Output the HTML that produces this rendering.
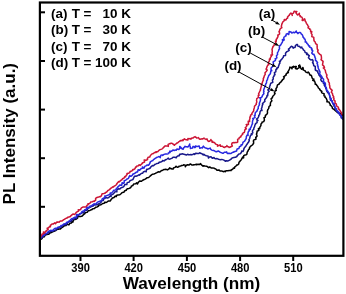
<!DOCTYPE html>
<html><head><meta charset="utf-8"><style>
html,body{margin:0;padding:0;background:#fff;}
svg{display:block;filter:blur(0.3px);}
text{font-family:"Liberation Sans",sans-serif;font-weight:bold;fill:#000;}
</style></head><body>
<svg width="346" height="294" viewBox="0 0 346 294">
<rect x="0" y="0" width="346" height="294" fill="#fff"/>
<g fill="none" stroke-linejoin="round" stroke-linecap="round">
<path d="M40.5,239.5 L41.9,238.7 L42.7,237.1 L44.4,236.7 L44.7,235.8 L45.2,235.0 L46.8,234.5 L48.5,234.3 L49.8,233.4 L50.9,232.0 L51.7,232.5 L52.6,231.7 L54.1,231.3 L55.6,230.6 L56.8,229.4 L58.5,229.3 L58.3,228.9 L60.2,229.1 L61.4,228.0 L62.7,227.1 L64.0,225.9 L65.6,225.6 L66.0,225.5 L66.7,224.3 L68.9,224.9 L69.8,223.3 L71.5,223.0 L71.7,221.4 L72.9,222.1 L73.4,220.1 L74.9,219.4 L76.5,219.0 L77.7,217.9 L77.4,216.8 L78.8,216.6 L80.6,216.5 L82.3,216.1 L83.4,214.8 L83.9,213.8 L84.7,213.9 L85.6,212.4 L87.4,212.2 L88.3,210.7 L90.0,210.4 L91.4,209.6 L91.8,209.8 L92.8,208.7 L94.5,208.5 L95.6,207.2 L97.2,206.9 L98.6,206.1 L98.1,205.0 L99.9,205.1 L101.4,204.5 L102.7,203.5 L104.3,203.2 L104.9,202.1 L105.8,202.6 L107.2,201.8 L108.5,200.9 L110.4,200.9 L111.3,199.2 L112.0,198.6 L112.4,198.0 L114.0,197.5 L115.0,196.2 L116.4,196.5 L116.4,195.5 L118.0,194.9 L119.8,194.8 L121.0,193.7 L122.2,192.5 L123.8,192.2 L124.8,190.8 L126.4,190.3 L126.2,190.0 L127.3,188.8 L129.0,188.4 L130.5,187.7 L131.5,186.4 L131.3,186.1 L132.8,185.5 L133.8,183.9 L135.5,183.8 L136.7,182.8 L137.5,184.0 L138.4,182.2 L139.6,181.1 L141.5,181.3 L142.7,180.2 L144.2,179.5 L145.2,179.1 L145.6,178.8 L146.9,177.8 L148.6,177.5 L149.8,176.5 L150.6,175.5 L151.0,175.4 L152.3,174.3 L153.9,174.0 L155.4,173.4 L156.2,172.9 L156.8,172.7 L158.2,171.8 L159.9,172.0 L161.2,170.7 L162.7,170.2 L164.1,169.5 L164.4,169.6 L165.7,169.2 L167.5,169.9 L168.9,168.9 L169.6,167.9 L170.0,168.7 L170.3,168.2 L172.0,169.0 L173.3,169.0 L173.4,168.0 L175.0,167.4 L176.0,166.2 L176.1,166.5 L177.6,167.3 L179.2,166.6 L178.9,166.3 L180.7,166.1 L181.3,165.5 L182.0,165.4 L183.4,165.3 L183.6,164.7 L185.3,165.2 L185.3,166.8 L186.0,165.7 L187.1,164.8 L187.3,164.7 L189.2,164.9 L190.4,163.9 L190.4,163.9 L191.7,164.9 L193.4,164.9 L193.5,164.8 L194.8,164.7 L196.4,164.3 L196.5,164.7 L198.0,164.2 L199.6,164.4 L199.9,164.1 L200.7,163.6 L200.7,164.0 L201.8,165.2 L203.0,166.2 L203.4,165.7 L205.0,166.1 L206.6,166.2 L208.0,167.2 L208.7,167.7 L209.7,166.9 L211.1,167.9 L212.8,167.9 L214.3,168.3 L214.3,168.5 L215.8,168.9 L217.0,170.2 L218.9,169.9 L219.9,170.8 L220.1,171.1 L221.7,170.9 L223.2,171.7 L224.9,171.1 L225.2,171.8 L226.1,170.8 L227.8,170.7 L229.4,170.4 L231.1,170.6 L231.1,170.0 L232.6,169.3 L233.5,167.9 L234.5,168.3 L234.8,166.9 L236.1,166.0 L236.6,165.1 L237.4,165.1 L238.7,164.0 L239.0,162.3 L239.9,161.4 L240.1,161.1 L241.1,159.9 L242.0,158.5 L242.6,157.1 L243.6,157.9 L243.7,155.7 L245.2,154.9 L246.3,154.7 L246.9,154.2 L247.1,152.5 L247.6,151.4 L247.9,151.1 L248.5,149.7 L249.6,148.7 L249.3,148.2 L250.1,146.8 L251.1,145.8 L251.4,145.8 L252.6,144.7 L253.6,143.3 L253.6,141.5 L253.3,141.0 L253.9,139.9 L256.0,139.2 L255.7,137.2 L256.1,137.3 L257.1,136.0 L256.4,134.1 L256.8,133.5 L256.9,132.6 L257.2,131.0 L258.2,130.8 L258.9,130.1 L258.3,128.6 L259.7,128.6 L259.9,127.0 L260.4,126.5 L260.9,125.6 L261.0,123.9 L262.1,122.7 L262.0,122.2 L263.7,121.6 L264.4,120.2 L264.2,118.4 L263.9,117.7 L265.3,117.1 L265.4,115.4 L266.8,114.3 L267.2,113.7 L267.5,112.9 L267.4,111.0 L267.9,109.5 L268.2,109.1 L268.8,108.2 L269.0,106.5 L270.5,105.4 L270.3,105.2 L270.4,103.6 L270.7,102.0 L271.3,101.6 L271.9,100.8 L271.0,98.8 L272.5,97.6 L272.3,97.3 L273.0,96.0 L273.8,95.3 L274.1,94.9 L275.1,93.5 L274.4,92.9 L274.9,91.8 L275.4,90.2 L276.3,90.4 L275.9,88.9 L276.5,87.8 L276.9,87.5 L277.2,85.9 L277.4,85.1 L278.0,84.6 L279.3,84.0 L279.2,83.5 L280.4,82.4 L281.6,81.4 L281.5,81.0 L282.5,80.1 L282.3,79.9 L283.7,78.9 L284.2,77.5 L283.5,76.8 L284.9,75.8 L286.3,74.8 L285.9,74.2 L286.8,73.3 L288.4,72.6 L287.6,72.1 L288.6,70.8 L289.3,69.3 L290.0,67.8 L289.7,67.2 L291.3,67.5 L292.0,68.8 L292.2,67.2 L293.5,66.3 L293.4,67.2 L295.0,66.6 L296.3,66.4 L295.4,68.6 L297.0,69.1 L297.5,68.6 L299.2,67.7 L298.7,65.7 L299.8,65.1 L299.5,65.0 L300.3,66.3 L300.5,67.8 L300.6,68.1 L301.6,69.2 L302.5,68.9 L302.8,67.5 L303.2,68.1 L303.2,69.9 L304.2,70.4 L305.0,70.7 L305.6,71.8 L306.1,72.1 L307.5,72.7 L308.2,72.1 L309.1,73.1 L309.8,74.5 L309.6,74.7 L311.4,75.5 L311.8,76.8 L311.8,77.0 L312.4,78.6 L314.0,79.1 L312.7,80.2 L314.5,81.0 L315.1,82.5 L315.3,84.3 L316.1,84.2 L316.7,85.3 L317.8,86.5 L318.4,88.0 L319.8,89.0 L319.5,89.2 L320.5,90.5 L321.9,91.4 L321.6,92.5 L322.3,93.1 L324.1,93.8 L324.0,95.8 L325.1,96.1 L324.9,97.1 L326.2,98.2 L326.8,99.7 L327.3,101.2 L326.8,101.7 L329.0,102.0 L329.6,103.5 L330.3,104.4 L330.1,105.2 L331.6,106.1 L332.3,107.5 L332.4,108.3 L333.2,108.9 L334.6,109.8 L335.1,110.5 L335.7,110.9 L336.9,112.0 L337.2,111.7 L338.4,112.6 L339.6,113.5 L339.9,113.2 L341.2,114.2 L342.3,115.4 L342.5,115.4" stroke="#000" stroke-width="1.5"/>
<path d="M40.5,238.5 L41.9,237.6 L43.0,236.5 L43.7,234.8 L44.7,234.9 L45.5,234.4 L46.9,233.8 L48.2,232.8 L49.7,232.2 L51.0,231.3 L51.3,230.7 L52.7,231.1 L54.2,230.5 L55.8,230.2 L57.0,228.9 L58.3,228.1 L58.3,228.0 L59.5,226.9 L61.5,227.1 L62.5,225.6 L63.8,224.8 L65.5,224.4 L66.3,224.8 L66.9,223.7 L68.0,222.4 L69.4,221.7 L71.1,221.3 L72.0,220.3 L72.1,219.9 L73.5,219.2 L75.1,218.6 L76.7,218.2 L77.2,216.1 L77.8,216.0 L78.6,215.3 L79.6,213.8 L81.3,213.5 L82.6,212.6 L84.3,212.6 L84.1,212.0 L84.9,210.5 L86.8,210.3 L87.8,208.9 L88.4,207.6 L89.0,207.8 L90.4,207.1 L91.8,206.3 L93.4,205.9 L93.8,204.5 L94.8,205.0 L96.5,204.8 L97.9,204.1 L99.4,203.5 L100.1,203.1 L100.9,202.7 L101.5,200.8 L103.3,200.5 L103.8,198.6 L105.0,198.4 L105.2,197.6 L107.3,198.1 L108.8,197.5 L109.9,196.1 L111.1,196.5 L111.1,195.1 L112.6,194.4 L113.8,193.4 L114.7,192.0 L116.2,191.6 L116.9,191.8 L116.8,189.8 L118.3,189.0 L118.1,188.7 L119.9,188.9 L121.1,187.7 L122.6,187.2 L123.5,186.8 L124.0,186.2 L124.7,184.6 L126.8,184.6 L127.2,182.6 L128.9,182.1 L129.1,182.2 L129.9,180.8 L131.4,180.1 L133.0,179.5 L133.3,178.6 L133.7,177.8 L134.5,176.2 L136.2,176.1 L136.5,176.2 L137.9,175.5 L139.2,174.6 L139.6,175.1 L140.7,173.9 L142.1,173.2 L142.7,173.3 L143.3,172.0 L144.7,171.3 L146.2,171.7 L146.3,170.8 L146.7,169.2 L147.3,169.4 L148.8,168.8 L150.3,168.1 L150.1,167.7 L151.2,166.6 L152.4,165.6 L153.3,165.8 L154.1,165.2 L155.3,164.2 L156.2,163.9 L156.8,163.5 L158.4,163.2 L159.2,162.1 L159.8,162.4 L161.3,161.8 L162.5,161.1 L162.5,160.5 L164.3,160.9 L165.3,159.6 L165.7,160.0 L167.1,159.0 L168.3,158.1 L168.7,159.0 L170.0,159.2 L170.2,158.9 L171.8,158.4 L173.0,157.3 L173.1,157.3 L174.7,157.2 L176.3,157.8 L176.4,157.3 L177.6,156.0 L179.3,155.8 L179.0,155.4 L179.9,154.1 L180.2,154.4 L181.6,154.1 L182.3,153.8 L183.1,154.1 L184.7,154.5 L185.3,154.6 L186.3,155.1 L187.9,154.2 L188.4,154.8 L189.5,154.7 L191.1,154.4 L191.4,154.9 L192.7,154.5 L194.2,153.7 L194.6,154.5 L195.7,153.2 L197.4,153.6 L197.6,153.5 L199.0,153.4 L200.0,152.7 L200.5,153.2 L202.0,153.8 L203.2,154.9 L203.6,154.2 L204.9,155.2 L206.4,155.7 L208.0,156.0 L208.5,158.1 L209.3,157.0 L211.0,156.7 L212.3,158.3 L214.1,157.5 L214.3,158.2 L215.4,158.8 L217.1,158.6 L218.6,159.2 L219.9,159.6 L220.1,159.8 L221.8,159.4 L223.4,159.9 L224.8,160.7 L225.3,161.3 L226.4,160.8 L228.1,160.9 L229.6,160.1 L230.6,159.3 L231.0,159.3 L232.1,157.9 L233.8,157.6 L233.8,157.6 L235.4,157.3 L236.8,156.5 L237.4,155.5 L237.8,155.2 L238.9,153.9 L240.2,153.8 L240.5,153.5 L241.5,152.2 L241.7,151.0 L243.0,151.4 L243.7,149.9 L244.0,148.8 L244.1,148.2 L245.1,146.9 L246.1,145.7 L246.2,145.4 L247.0,144.3 L247.8,143.0 L248.8,141.7 L249.3,140.5 L248.9,139.9 L249.7,138.5 L250.0,136.9 L250.5,135.4 L252.1,134.5 L251.2,133.9 L252.8,132.9 L252.4,131.0 L253.2,129.6 L253.8,129.3 L253.8,128.1 L254.6,126.7 L254.8,125.5 L254.9,125.1 L255.6,124.0 L255.5,123.6 L257.1,122.6 L257.0,120.8 L258.0,120.6 L256.5,119.0 L258.1,117.8 L258.8,116.3 L258.7,115.3 L259.5,114.9 L259.9,113.3 L260.1,111.7 L261.0,110.3 L262.0,110.6 L261.4,108.8 L262.0,107.3 L262.2,105.6 L262.9,104.2 L262.4,103.9 L263.3,102.7 L264.9,101.5 L264.7,100.2 L264.7,99.8 L265.7,98.5 L266.7,97.3 L267.0,95.6 L267.7,95.7 L267.8,94.2 L268.0,92.5 L269.2,91.3 L267.8,89.9 L268.8,89.4 L269.6,88.0 L269.6,86.3 L270.3,85.2 L270.2,84.8 L270.8,83.3 L272.8,82.4 L272.5,80.6 L272.4,80.1 L273.3,79.1 L273.1,77.4 L274.1,76.0 L274.1,75.1 L275.0,74.7 L274.4,72.7 L276.0,71.7 L275.9,71.4 L275.8,69.9 L277.2,68.7 L276.5,68.2 L278.2,67.5 L278.6,65.8 L278.8,65.6 L279.1,64.3 L280.0,63.0 L279.4,61.2 L280.3,61.4 L281.0,59.9 L282.2,58.8 L282.4,58.2 L283.2,57.5 L283.6,55.8 L285.2,55.6 L285.6,55.3 L285.5,53.3 L286.5,52.0 L286.9,51.6 L287.9,51.2 L289.2,50.3 L288.4,49.1 L289.6,48.3 L290.6,47.1 L291.4,46.3 L292.5,46.6 L293.2,48.2 L293.0,47.6 L295.0,47.4 L295.3,46.7 L295.4,45.5 L296.7,44.5 L297.5,44.4 L297.5,45.9 L299.3,46.6 L299.3,46.2 L300.5,47.5 L300.8,47.9 L301.8,47.0 L301.5,47.6 L302.7,48.5 L303.4,49.9 L304.8,51.0 L304.9,52.0 L305.3,52.5 L307.1,53.2 L306.6,54.6 L307.8,54.2 L308.6,55.7 L309.3,55.6 L308.4,57.7 L309.7,58.9 L309.6,59.1 L310.9,60.0 L312.1,59.6 L313.0,60.4 L313.0,62.3 L312.5,62.5 L313.4,63.8 L313.7,65.4 L313.7,65.7 L315.3,66.5 L315.3,68.3 L315.3,70.0 L317.0,71.0 L317.8,71.0 L317.7,72.4 L318.6,73.7 L319.1,75.3 L319.9,75.3 L320.0,76.6 L321.6,77.6 L320.9,79.2 L320.8,79.8 L321.6,81.2 L323.5,82.0 L323.4,83.6 L324.8,83.1 L324.2,85.2 L325.1,86.6 L326.2,87.8 L325.7,88.1 L326.4,89.5 L326.7,91.1 L327.4,92.0 L327.6,92.5 L329.2,93.5 L329.5,95.1 L329.9,96.7 L330.2,98.3 L330.9,99.5 L330.4,100.0 L332.1,101.0 L332.5,102.5 L333.1,104.1 L334.0,105.4 L334.1,106.4 L334.9,106.7 L334.9,108.5 L336.4,109.5 L336.7,111.2 L337.7,111.8 L337.5,112.7 L339.5,113.2 L339.7,115.0 L341.0,116.0 L341.0,116.6 L341.2,117.8 L342.9,118.7 L342.5,119.0" stroke="#18188a" stroke-width="1.5"/>
<path d="M40.5,238.0 L41.7,236.9 L42.3,235.2 L44.6,235.4 L44.3,233.6 L45.2,233.6 L46.9,233.3 L47.9,231.8 L49.3,231.0 L50.7,230.3 L51.7,230.4 L52.7,230.8 L53.8,229.3 L55.1,228.2 L56.8,228.2 L58.1,227.1 L58.4,227.3 L59.9,227.1 L60.9,225.6 L62.5,225.2 L63.7,224.1 L65.3,223.7 L66.1,223.5 L66.4,222.5 L67.9,221.9 L69.3,221.0 L70.5,219.9 L71.6,218.8 L71.6,218.7 L73.2,218.2 L74.5,217.3 L76.4,217.2 L76.5,214.6 L78.0,214.8 L78.5,214.7 L80.1,214.1 L81.2,212.9 L82.1,211.5 L83.6,210.9 L84.1,210.8 L84.8,209.8 L86.4,209.2 L86.9,207.3 L89.2,207.6 L89.2,207.4 L90.0,206.0 L91.7,205.7 L93.0,204.7 L94.1,203.7 L94.4,204.0 L96.0,203.7 L97.2,202.4 L98.6,201.7 L99.8,201.3 L100.2,201.2 L101.7,200.5 L102.3,198.8 L103.8,198.1 L105.0,196.9 L104.8,195.9 L106.2,195.9 L107.7,195.3 L109.1,194.6 L110.6,194.0 L110.1,193.1 L111.8,192.9 L112.8,191.6 L113.8,190.3 L115.5,189.9 L116.3,189.3 L116.3,188.4 L117.8,187.6 L117.9,186.6 L118.7,186.3 L119.8,185.0 L121.8,185.2 L122.1,182.7 L123.4,183.3 L124.2,182.9 L124.2,180.8 L125.9,180.1 L126.9,178.9 L127.5,178.9 L128.5,178.3 L129.2,176.6 L129.8,175.5 L130.9,176.3 L132.2,175.4 L133.1,173.9 L133.4,174.1 L134.7,173.3 L136.0,172.5 L136.5,172.0 L137.6,171.9 L138.1,169.8 L139.7,170.3 L140.0,169.7 L141.2,168.6 L142.8,168.3 L142.4,166.9 L144.1,168.1 L144.2,167.6 L145.0,166.1 L146.7,165.6 L147.0,164.9 L148.5,165.3 L149.5,164.0 L150.2,162.6 L150.0,162.1 L151.4,161.2 L152.8,160.5 L153.0,160.2 L153.9,159.3 L155.2,158.4 L156.1,157.8 L156.6,157.5 L158.1,156.9 L159.1,156.4 L160.2,157.6 L160.9,155.3 L162.2,154.9 L162.7,155.4 L164.0,154.4 L165.5,154.0 L165.5,154.1 L167.1,154.1 L168.6,153.6 L168.3,152.9 L170.1,152.6 L169.6,151.3 L171.2,151.3 L172.5,150.5 L173.0,149.9 L174.2,150.5 L175.7,149.9 L176.2,150.3 L177.0,148.9 L178.9,149.4 L179.4,149.0 L179.7,147.9 L179.7,146.4 L180.5,147.1 L181.7,148.3 L180.8,148.0 L183.1,149.3 L183.6,147.7 L183.9,147.9 L184.9,146.3 L185.3,146.6 L186.4,146.8 L187.9,147.1 L188.0,146.7 L189.1,145.5 L189.7,143.9 L189.8,145.4 L190.3,146.9 L190.4,148.5 L190.8,148.3 L192.6,148.1 L192.9,146.6 L193.7,146.4 L195.0,147.6 L195.3,147.2 L195.5,146.0 L196.1,146.3 L197.7,146.4 L199.1,145.9 L199.1,146.1 L199.8,148.2 L201.9,147.6 L202.3,148.0 L203.4,146.1 L204.1,147.0 L204.9,147.7 L206.5,148.2 L207.3,148.5 L207.8,149.0 L209.3,148.4 L210.3,148.1 L210.5,149.2 L211.8,150.1 L213.2,150.5 L213.6,150.3 L215.0,151.2 L216.3,151.8 L216.5,151.7 L218.3,151.0 L219.8,151.8 L220.0,152.2 L221.2,152.6 L222.7,153.2 L223.3,153.2 L224.3,152.2 L225.9,152.2 L226.6,151.9 L227.3,153.5 L229.0,153.2 L229.8,153.5 L230.7,153.6 L232.2,152.6 L233.6,151.9 L233.8,152.2 L235.0,151.4 L236.7,151.0 L236.6,150.7 L237.1,149.0 L238.8,148.5 L239.0,148.2 L239.4,146.8 L240.9,146.1 L241.1,144.8 L242.1,145.0 L242.7,143.5 L243.0,142.2 L243.5,142.0 L244.8,141.0 L245.0,140.2 L245.6,139.6 L246.3,138.2 L246.3,136.5 L247.1,135.1 L248.1,135.5 L247.9,133.7 L248.2,132.0 L249.2,130.7 L249.1,129.3 L250.3,129.4 L250.5,127.8 L251.3,126.7 L251.3,126.4 L251.8,124.9 L252.6,123.7 L252.3,123.4 L252.5,121.7 L252.8,120.2 L253.5,118.8 L252.7,118.4 L255.1,117.6 L254.3,115.5 L255.2,115.3 L255.1,114.1 L255.4,112.5 L256.8,111.4 L257.4,109.9 L257.7,109.2 L258.3,108.5 L258.2,106.8 L259.1,105.4 L259.5,104.4 L259.3,103.8 L259.7,102.3 L260.4,100.8 L260.3,100.2 L260.6,99.2 L259.7,97.7 L261.0,97.7 L262.2,96.6 L262.1,96.4 L262.7,95.1 L263.9,93.7 L263.5,92.0 L264.0,91.4 L263.6,90.3 L264.1,88.8 L264.7,87.3 L264.9,86.1 L265.4,85.9 L265.6,84.2 L266.5,82.9 L266.6,81.2 L266.6,80.9 L267.4,79.8 L267.7,78.2 L268.3,76.7 L268.4,76.4 L269.0,75.2 L270.1,73.9 L270.3,73.8 L270.6,72.5 L270.8,70.8 L271.8,70.7 L270.9,69.2 L271.3,67.6 L272.9,66.5 L272.8,66.3 L273.1,64.9 L273.5,63.3 L273.1,62.0 L273.5,61.6 L275.2,60.6 L275.7,59.4 L275.1,58.8 L276.9,57.9 L276.4,55.9 L277.1,55.0 L277.6,54.6 L277.4,52.9 L278.2,51.5 L278.7,50.5 L278.7,50.0 L279.6,48.6 L279.5,48.5 L279.3,46.8 L279.9,45.4 L280.3,45.5 L281.2,44.1 L281.5,43.2 L282.1,42.8 L282.7,41.3 L282.4,39.6 L282.6,39.6 L284.1,40.0 L283.4,40.3 L284.2,40.0 L283.8,38.3 L283.9,37.1 L284.6,36.9 L285.6,35.6 L286.0,35.9 L286.2,34.2 L287.3,33.6 L288.7,34.5 L289.1,32.5 L289.1,31.4 L290.7,32.1 L290.9,31.9 L291.6,32.9 L292.5,32.8 L293.4,32.2 L294.6,32.8 L295.0,32.4 L296.3,31.0 L296.3,32.1 L297.7,33.0 L297.8,33.6 L299.1,32.5 L300.5,32.6 L300.5,32.5 L301.2,33.9 L301.8,34.3 L302.4,35.0 L303.0,36.5 L302.9,36.9 L303.9,37.9 L304.3,39.0 L304.9,39.0 L305.4,40.6 L305.2,42.0 L306.3,41.9 L306.9,43.4 L308.2,44.5 L308.0,44.7 L308.9,46.2 L309.7,46.0 L309.6,47.1 L311.4,48.0 L312.2,49.3 L311.5,49.7 L312.8,50.9 L311.7,53.1 L312.8,54.3 L314.0,54.2 L314.2,55.5 L314.9,56.2 L314.8,57.0 L315.5,58.4 L315.5,59.5 L315.4,60.1 L316.7,61.4 L317.6,62.7 L316.9,63.1 L317.6,64.4 L317.5,66.1 L318.1,66.0 L318.1,67.6 L318.7,69.1 L319.4,70.6 L320.0,72.1 L319.8,73.3 L319.3,74.1 L320.7,75.2 L321.8,76.4 L321.9,77.4 L322.4,77.9 L323.6,79.2 L323.5,80.9 L323.6,82.6 L324.4,82.3 L325.4,83.6 L325.4,85.4 L325.5,87.1 L326.0,87.2 L326.5,88.4 L326.6,90.1 L326.9,90.1 L327.8,91.3 L328.7,92.6 L329.1,94.2 L329.8,95.7 L329.9,97.3 L331.2,98.6 L330.3,99.3 L331.4,100.2 L332.3,101.5 L332.6,103.2 L334.5,104.0 L334.6,105.6 L334.6,105.7 L334.9,107.4 L336.2,108.5 L336.3,110.3 L337.9,111.2 L337.5,111.4 L338.9,112.4 L339.2,114.2 L340.6,115.1 L340.9,116.1 L341.6,116.4 L342.6,117.7 L342.5,118.5" stroke="#2828e0" stroke-width="1.5"/>
<path d="M40.5,237.5 L41.1,236.0 L42.0,234.7 L41.9,234.3 L43.5,233.8 L43.4,231.9 L44.8,233.1 L45.5,231.2 L46.1,231.4 L46.6,230.3 L48.2,229.5 L47.1,228.3 L48.6,227.8 L49.6,226.5 L50.4,226.7 L50.4,225.1 L51.3,224.7 L51.8,224.1 L53.3,223.7 L53.5,223.9 L54.8,222.8 L55.6,223.6 L56.5,222.6 L57.0,221.9 L57.4,222.3 L58.9,221.9 L59.1,222.1 L60.3,221.0 L61.0,221.1 L62.1,221.0 L63.4,219.9 L63.4,220.0 L64.7,219.1 L65.9,218.3 L66.1,218.3 L67.6,217.8 L67.7,217.2 L69.0,216.9 L70.6,216.5 L70.3,216.2 L71.6,215.1 L72.9,214.1 L73.0,214.1 L74.8,214.4 L75.9,213.0 L76.0,212.6 L77.0,211.8 L78.6,211.0 L78.3,209.8 L79.1,209.9 L80.7,209.5 L80.7,209.2 L81.4,207.9 L82.8,207.1 L82.9,207.1 L84.6,207.1 L85.6,207.0 L86.2,206.5 L87.2,205.2 L88.3,204.5 L88.0,203.7 L89.8,203.4 L90.6,202.3 L90.7,201.9 L92.3,201.8 L93.8,201.1 L94.4,201.4 L95.3,200.3 L95.7,200.1 L95.6,198.4 L97.0,197.5 L98.6,197.1 L100.1,196.5 L100.4,196.7 L101.5,195.6 L102.1,193.8 L103.9,193.5 L105.4,193.0 L105.4,192.7 L106.7,192.0 L107.7,190.7 L108.2,190.3 L109.1,189.8 L110.3,188.8 L110.4,188.5 L111.5,187.8 L112.8,186.8 L113.5,186.9 L114.2,186.1 L115.7,185.3 L116.8,184.2 L116.6,183.9 L117.6,182.7 L118.7,181.5 L119.1,181.9 L120.3,180.9 L121.5,179.9 L122.0,179.7 L122.6,178.7 L124.1,178.0 L124.8,176.5 L125.5,176.9 L126.2,175.5 L127.3,174.3 L126.9,173.6 L128.4,173.3 L129.8,172.6 L130.0,171.5 L130.9,171.3 L132.3,170.6 L132.9,169.4 L133.7,169.7 L135.0,168.7 L135.6,167.1 L136.5,166.9 L136.9,165.9 L138.6,165.7 L139.0,164.7 L140.2,165.4 L141.4,164.2 L142.5,163.3 L142.3,162.9 L144.1,162.2 L144.6,162.0 L144.2,160.1 L146.4,160.2 L147.6,159.5 L147.3,158.9 L148.1,157.3 L149.9,157.0 L150.0,156.2 L150.6,155.4 L151.6,154.1 L153.3,153.5 L153.3,153.6 L154.5,152.5 L156.2,152.5 L155.9,151.8 L157.7,151.7 L158.8,150.5 L159.3,150.1 L160.1,149.6 L161.7,149.1 L162.6,148.5 L163.0,148.0 L164.1,146.9 L165.2,145.8 L165.4,145.9 L166.7,145.9 L168.3,146.4 L168.4,146.0 L168.1,144.4 L170.2,143.5 L170.2,143.8 L170.9,143.2 L172.0,143.3 L172.5,143.6 L173.7,144.6 L174.6,145.3 L174.6,144.6 L176.1,143.8 L176.8,143.0 L177.5,143.1 L178.6,141.9 L180.0,141.1 L180.2,140.6 L181.5,140.7 L182.8,139.8 L182.8,140.7 L184.4,138.8 L185.3,139.4 L186.1,139.8 L187.9,139.9 L187.9,138.6 L189.0,138.7 L190.4,138.6 L190.8,139.2 L192.1,137.9 L193.1,138.0 L193.6,137.4 L195.1,136.6 L195.5,137.2 L196.0,137.3 L196.6,137.9 L198.0,137.7 L198.4,137.6 L199.4,139.0 L200.1,139.3 L201.0,139.1 L202.1,138.7 L202.7,139.0 L204.0,138.0 L203.8,138.5 L205.0,138.9 L206.0,139.4 L207.0,138.9 L207.6,140.6 L208.7,141.4 L209.3,141.3 L210.6,140.4 L210.9,139.5 L211.3,140.7 L212.8,141.4 L212.1,142.3 L214.2,142.4 L215.3,143.5 L215.2,143.6 L216.2,144.4 L217.6,144.8 L217.5,146.2 L219.2,145.3 L220.2,144.9 L220.5,146.3 L222.2,146.3 L222.5,146.2 L223.6,147.3 L224.9,147.4 L225.1,146.7 L226.8,146.4 L226.9,145.6 L227.4,146.6 L228.9,146.9 L229.0,147.4 L230.7,147.1 L230.5,146.8 L232.4,146.1 L231.6,144.2 L232.1,143.1 L232.5,142.7 L234.1,142.6 L234.3,142.8 L235.7,142.5 L236.8,142.5 L237.7,142.1 L237.7,140.3 L237.6,139.4 L238.6,138.8 L239.0,138.8 L239.2,137.6 L241.0,136.8 L240.6,136.4 L241.6,135.3 L242.8,134.2 L242.4,133.8 L243.4,132.7 L244.3,132.5 L244.6,131.6 L244.8,129.9 L246.3,128.8 L245.2,127.8 L246.1,127.0 L247.0,125.6 L246.2,124.5 L248.5,124.5 L248.3,122.7 L248.2,121.2 L249.6,121.5 L249.5,119.7 L250.0,118.2 L249.8,117.2 L250.5,116.7 L250.6,114.9 L252.0,114.5 L251.7,113.8 L252.5,112.4 L253.6,111.1 L253.8,109.4 L253.8,109.2 L254.3,107.9 L254.5,106.3 L255.7,105.0 L256.4,104.3 L256.2,103.5 L256.8,102.0 L256.5,100.2 L256.6,99.9 L256.8,98.6 L258.4,97.5 L258.2,95.7 L259.2,95.1 L258.5,94.1 L259.1,92.7 L259.8,91.2 L260.6,89.9 L260.3,89.7 L260.8,88.1 L261.2,86.6 L261.7,85.1 L261.2,84.5 L262.1,83.5 L262.5,82.0 L263.1,80.5 L263.4,80.2 L263.2,78.9 L263.9,77.4 L264.3,75.8 L264.9,74.9 L265.2,74.5 L265.0,72.7 L266.2,71.4 L267.3,70.1 L266.0,69.2 L266.6,68.2 L267.0,66.6 L267.8,65.2 L268.9,64.5 L268.4,63.7 L268.5,62.1 L269.5,60.7 L269.4,59.1 L270.2,59.3 L270.4,57.6 L271.4,56.3 L270.9,55.0 L272.6,54.9 L272.0,53.1 L272.3,51.5 L272.2,50.3 L272.0,49.8 L272.4,48.2 L273.0,47.0 L272.9,46.6 L274.1,45.5 L274.3,44.2 L275.0,44.1 L275.7,42.7 L275.4,41.3 L276.3,41.2 L276.2,39.4 L277.2,38.5 L277.0,38.1 L278.0,36.8 L277.8,35.1 L278.2,35.1 L279.6,34.0 L279.4,32.1 L278.9,31.8 L279.7,30.4 L279.7,29.8 L280.1,29.1 L281.1,28.0 L281.9,27.8 L281.3,26.2 L281.8,24.6 L281.7,24.4 L282.3,23.2 L282.8,22.0 L283.0,21.7 L284.3,20.6 L284.3,19.5 L285.5,20.1 L286.1,19.8 L286.6,18.6 L287.7,18.1 L287.4,17.3 L288.4,16.0 L289.2,15.4 L289.4,14.8 L290.4,13.5 L290.9,13.1 L291.8,14.1 L292.3,15.4 L291.8,14.0 L293.5,13.1 L294.0,11.5 L294.4,11.2 L294.9,11.6 L296.9,11.4 L295.9,12.7 L296.8,14.0 L297.6,15.0 L297.7,14.6 L299.3,13.9 L299.4,13.2 L299.1,14.7 L300.4,15.8 L300.0,16.6 L301.6,17.0 L302.6,18.4 L302.2,20.3 L302.7,20.6 L303.9,19.6 L304.7,18.9 L305.1,20.3 L305.2,21.2 L305.8,21.8 L306.4,23.3 L306.7,23.9 L307.4,24.5 L308.0,26.0 L308.7,26.5 L308.0,27.9 L309.8,28.7 L309.7,29.3 L310.7,30.0 L310.6,31.8 L311.9,31.7 L311.2,33.3 L312.1,34.6 L311.8,36.5 L313.8,37.4 L313.8,39.1 L314.1,40.3 L313.9,40.8 L315.2,42.0 L315.6,43.6 L317.1,44.7 L317.1,46.4 L317.2,48.1 L317.5,49.7 L318.2,50.0 L317.6,51.4 L318.3,52.8 L319.6,54.1 L321.1,55.2 L321.4,56.8 L321.5,58.5 L321.0,59.7 L321.6,60.1 L323.1,61.3 L322.8,63.1 L322.5,64.9 L323.9,66.1 L324.5,67.6 L323.3,68.0 L324.7,69.2 L325.4,70.7 L325.6,72.3 L326.3,73.8 L327.0,75.2 L326.5,76.1 L326.8,76.9 L327.4,78.4 L328.4,79.8 L328.3,81.5 L329.3,82.9 L329.4,83.8 L329.3,84.5 L329.8,86.0 L329.8,87.7 L330.8,89.1 L332.2,90.4 L332.0,90.6 L331.3,92.3 L332.5,93.6 L332.7,95.2 L333.7,96.6 L333.2,97.7 L334.0,98.2 L333.8,99.9 L335.1,101.1 L335.0,102.9 L335.3,103.2 L336.4,104.0 L336.4,105.8 L338.0,106.8 L338.7,108.3 L338.1,108.8 L339.4,109.6 L340.3,111.0 L341.1,112.3 L341.5,112.4 L341.5,114.0 L342.5,114.7" stroke="#cc1535" stroke-width="1.5"/>
</g>
<line x1="271.8" y1="20" x2="276.12" y2="22.53" stroke="#000" stroke-width="1"/><polygon points="280,24.8 275.31,23.91 276.92,21.15" fill="#000"/>
<line x1="261.9" y1="36.8" x2="275.32" y2="43.90" stroke="#000" stroke-width="1"/><polygon points="279.3,46 274.57,45.31 276.07,42.48" fill="#000"/>
<line x1="250.2" y1="53" x2="272.44" y2="64.97" stroke="#000" stroke-width="1"/><polygon points="276.4,67.1 271.68,66.38 273.20,63.56" fill="#000"/>
<line x1="239" y1="72" x2="270.76" y2="89.43" stroke="#000" stroke-width="1"/><polygon points="274.7,91.6 269.99,90.84 271.53,88.03" fill="#000"/>
<rect x="39.9" y="2.5" width="303.5" height="253.3" fill="none" stroke="#000" stroke-width="2.2"/>
<g stroke="#000" stroke-width="2">
<line x1="40" y1="12.3" x2="45" y2="12.3"/>
<line x1="40" y1="61" x2="45" y2="61"/>
<line x1="40" y1="109.6" x2="45" y2="109.6"/>
<line x1="40" y1="158.2" x2="45" y2="158.2"/>
<line x1="40" y1="206.8" x2="45" y2="206.8"/>
<line x1="80.5" y1="256" x2="80.5" y2="261"/>
<line x1="133.6" y1="256" x2="133.6" y2="261"/>
<line x1="186.9" y1="256" x2="186.9" y2="261"/>
<line x1="240.1" y1="256" x2="240.1" y2="261"/>
<line x1="293.2" y1="256" x2="293.2" y2="261"/>
</g>
<g font-size="12">
<text transform="translate(80.6,271.6) scale(0.93,1)" text-anchor="middle">390</text>
<text transform="translate(133.7,271.6) scale(0.93,1)" text-anchor="middle">420</text>
<text transform="translate(187,271.6) scale(0.93,1)" text-anchor="middle">450</text>
<text transform="translate(240.2,271.6) scale(0.93,1)" text-anchor="middle">480</text>
<text transform="translate(293.4,271.6) scale(0.93,1)" text-anchor="middle">510</text>
</g>
<text x="191.5" y="289" font-size="16.3" text-anchor="middle" textLength="137.6" lengthAdjust="spacingAndGlyphs">Wavelength (nm)</text>
<text transform="translate(15,133.7) rotate(-90)" font-size="16.3" text-anchor="middle" textLength="141.5" lengthAdjust="spacingAndGlyphs">PL Intensity (a.u.)</text>
<g font-size="12.6">
<text transform="translate(51,18.0) scale(1.07,1)">(a)</text>
<text transform="translate(71.8,18.0) scale(1.07,1)">T</text>
<text transform="translate(83.5,18.0) scale(1.07,1)">=</text>
<text transform="translate(131,18.0) scale(1.07,1)" text-anchor="end">10 K</text>
<text transform="translate(51,34.3) scale(1.07,1)">(b)</text>
<text transform="translate(71.8,34.3) scale(1.07,1)">T</text>
<text transform="translate(83.5,34.3) scale(1.07,1)">=</text>
<text transform="translate(131,34.3) scale(1.07,1)" text-anchor="end">30 K</text>
<text transform="translate(51,50.7) scale(1.07,1)">(c)</text>
<text transform="translate(71.8,50.7) scale(1.07,1)">T</text>
<text transform="translate(83.5,50.7) scale(1.07,1)">=</text>
<text transform="translate(131,50.7) scale(1.07,1)" text-anchor="end">70 K</text>
<text transform="translate(51,67.0) scale(1.07,1)">(d)</text>
<text transform="translate(71.8,67.0) scale(1.07,1)">T</text>
<text transform="translate(83.5,67.0) scale(1.07,1)">=</text>
<text transform="translate(131,67.0) scale(1.07,1)" text-anchor="end">100 K</text>
</g>
<g font-size="12.6">
<text transform="translate(258.8,17.5) scale(1.07,1)">(a)</text>
<text transform="translate(248.1,34.7) scale(1.07,1)">(b)</text>
<text transform="translate(235.2,51.6) scale(1.07,1)">(c)</text>
<text transform="translate(224.4,70.2) scale(1.07,1)">(d)</text>
</g>
</svg>
</body></html>
